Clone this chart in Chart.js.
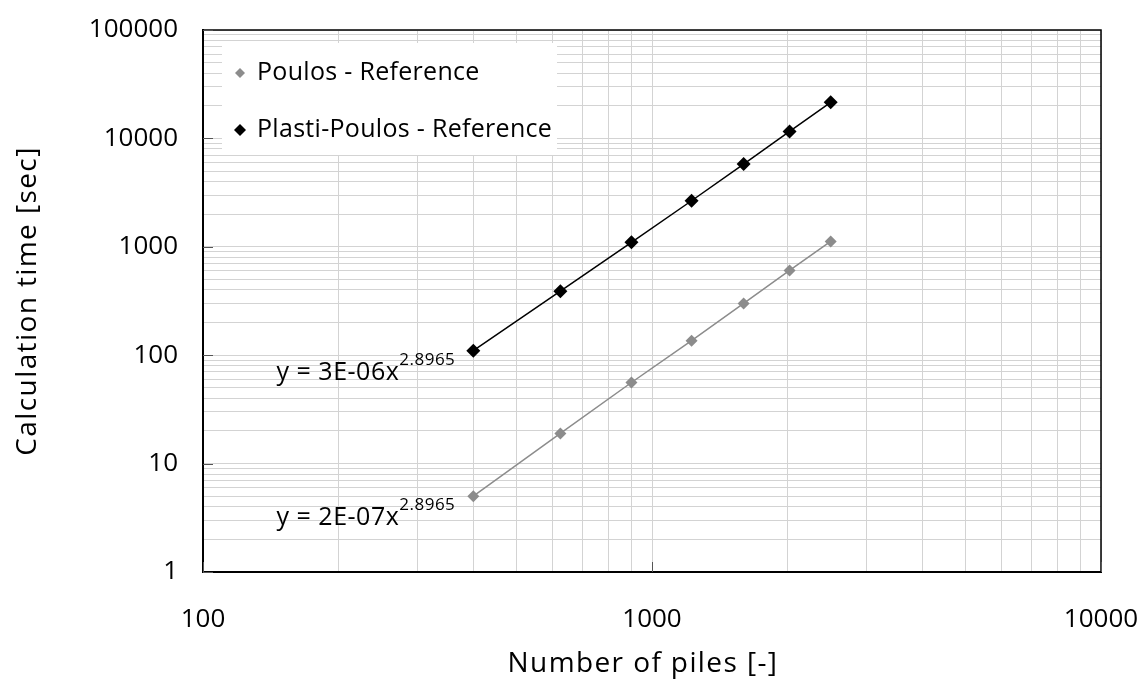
<!DOCTYPE html>
<html>
<head>
<meta charset="utf-8">
<script src="https://cdn.jsdelivr.net/npm/chart.js@4/dist/chart.umd.min.js"></script>
<style>
  html, body { margin: 0; padding: 0; background: #fff; }
  #wrap { width: 1142px; height: 687px; }
</style>
</head>
<body>
<div id="wrap"><canvas id="timing-chart" width="1142" height="687"></canvas></div>
<script>
// piles in the group and run time per method
const piles = [400, 625, 900, 1225, 1600, 2025, 2500];
const poulosTimes = [5, 19, 56, 136, 300, 606, 1120];
const plastiTimes = [110, 390, 1100, 2660, 5800, 11600, 21500];

const seriesLabels = ['Poulos - Reference', 'Plasti-Poulos - Reference'];
const seriesColors = ['#8c8c8c', '#000000'];
const trendCoefs = ['2E-07', '3E-06'];
const trendExponent = '2.8965';

const xTickLabels = [100, 1000, 10000];
const yTickLabels = [1, 10, 100, 1000, 10000, 100000];
const xTitle = 'Number of piles [-]';
const yTitle = 'Calculation time [sec]';

const FONT = '"Open Sans", sans-serif';

// wanted plot box
const PLOT = { left: 203, right: 1101, top: 30, bottom: 572 };

// 1..9 per decade so every decade gets its minor grid lines
function decadeTicks(min, max) {
    const out = [];
    for (let p = min; p < max; p *= 10) {
        for (let m = 1; m <= 9; m++) out.push({ value: p * m });
    }
    out.push({ value: max });
    return out;
}

function diamond(ctx, x, y, r, color) {
    ctx.fillStyle = color;
    ctx.beginPath();
    ctx.moveTo(x, y - r);
    ctx.lineTo(x + r, y);
    ctx.lineTo(x, y + r);
    ctx.lineTo(x - r, y);
    ctx.closePath();
    ctx.fill();
}

const overlay = {
    id: 'overlay',
    afterDraw(chart) {
        const { ctx, chartArea: a, scales } = chart;
        const xs = scales.x, ys = scales.y;
        ctx.save();

        // frame on top and right
        ctx.strokeStyle = '#000';
        ctx.lineWidth = 1.5;
        ctx.beginPath();
        ctx.moveTo(a.left, a.top);
        ctx.lineTo(a.right, a.top);
        ctx.lineTo(a.right, a.bottom);
        ctx.stroke();

        // short inner tick marks at the decades
        ctx.strokeStyle = '#555';
        ctx.lineWidth = 1;
        yTickLabels.forEach(v => {
            const y = Math.round(ys.getPixelForValue(v)) + 0.5;
            ctx.beginPath();
            ctx.moveTo(a.left, y);
            ctx.lineTo(a.left + 10, y);
            ctx.stroke();
        });
        xTickLabels.forEach(v => {
            const x = Math.round(xs.getPixelForValue(v)) + 0.5;
            ctx.beginPath();
            ctx.moveTo(x, a.bottom);
            ctx.lineTo(x, a.bottom - 10);
            ctx.stroke();
        });

        // axis titles
        ctx.fillStyle = '#000';
        ctx.textAlign = 'center';
        ctx.textBaseline = 'middle';
        ctx.font = '28px ' + FONT;
        ctx.letterSpacing = '1.4px';
        ctx.fillText(xTitle, 643, 664);
        ctx.save();
        ctx.translate(28, 301);
        ctx.rotate(-Math.PI / 2);
        ctx.fillText(yTitle, 0, 0);
        ctx.restore();

        // legend box inside the plot
        const lx = 222, ly = 43, lw = 335, lh = 112;
        ctx.fillStyle = '#fff';
        ctx.fillRect(lx, ly, lw, lh);
        ctx.font = '25px ' + FONT;
        ctx.letterSpacing = '0.3px';
        ctx.textAlign = 'left';
        chart.data.datasets.forEach((ds, i) => {
            const cy = ly + 30 + i * 57;
            diamond(ctx, lx + 18, cy, i === 0 ? 5 : 6, ds.borderColor);
            ctx.fillStyle = '#000';
            ctx.fillText(ds.label, lx + 35, cy);
        });

        // power-law fit labels next to the first point of each series
        ctx.textBaseline = 'alphabetic';
        chart.data.datasets.forEach((ds, i) => {
            const p = ds.data[0];
            const px = xs.getPixelForValue(p.x);
            const py = ys.getPixelForValue(p.y);
            const main = 'y = ' + trendCoefs[i] + 'x';
            ctx.letterSpacing = '0.5px';
            ctx.font = '17px ' + FONT;
            const supW = ctx.measureText(trendExponent).width;
            ctx.font = '25px ' + FONT;
            const mainW = ctx.measureText(main).width;
            const right = px - 18;
            const base = py + 29;
            ctx.fillStyle = '#000';
            ctx.fillText(main, right - supW - mainW, base);
            ctx.font = '17px ' + FONT;
            ctx.fillText(trendExponent, right - supW, base - 15);
        });
        ctx.restore();
    }
};

function makeDataset(label, times, color, radius) {
    return {
        label: label,
        data: piles.map((p, i) => ({ x: p, y: times[i] })),
        showLine: true,
        borderColor: color,
        backgroundColor: color,
        borderWidth: 1.5,
        pointStyle: 'rectRot',
        pointRadius: radius,
        pointBorderWidth: 0,
        pointHoverRadius: radius
    };
}

const gridColor = '#d3d3d3';

new Chart(document.getElementById('timing-chart'), {
    type: 'scatter',
    data: {
        datasets: [
            makeDataset(seriesLabels[0], poulosTimes, seriesColors[0], 6),
            makeDataset(seriesLabels[1], plastiTimes, seriesColors[1], 7)
        ]
    },
    options: {
        responsive: false,
        animation: false,
        layout: { padding: { left: 0, right: 1142 - PLOT.right, top: PLOT.top, bottom: 0 } },
        plugins: {
            legend: { display: false },
            tooltip: { enabled: false }
        },
        scales: {
            x: {
                type: 'logarithmic',
                min: 100,
                max: 10000,
                afterBuildTicks: s => { s.ticks = decadeTicks(100, 10000); },
                afterFit: s => {
                    s.height = 687 - PLOT.bottom;
                    // end labels may hang past the plot, the outer padding covers them
                    s.paddingLeft = 0;
                    s.paddingRight = 0;
                },
                grid: { color: gridColor, lineWidth: 1, drawTicks: false },
                border: { color: '#000', width: 2 },
                ticks: {
                    autoSkip: false,
                    maxRotation: 0,
                    padding: 32,
                    color: '#000',
                    font: { family: FONT, size: 26 },
                    callback: v => xTickLabels.includes(v) ? String(v) : ''
                }
            },
            y: {
                type: 'logarithmic',
                min: 1,
                max: 100000,
                afterBuildTicks: s => { s.ticks = decadeTicks(1, 100000); },
                afterFit: s => {
                    s.width = PLOT.left;
                    s.paddingTop = 0;
                    s.paddingBottom = 0;
                },
                grid: { color: gridColor, lineWidth: 1, drawTicks: false },
                border: { color: '#000', width: 2 },
                ticks: {
                    autoSkip: false,
                    padding: 25,
                    color: '#000',
                    font: { family: FONT, size: 26 },
                    callback: v => yTickLabels.includes(v) ? String(v) : ''
                }
            }
        }
    },
    plugins: [overlay]
});
</script>
</body>
</html>
